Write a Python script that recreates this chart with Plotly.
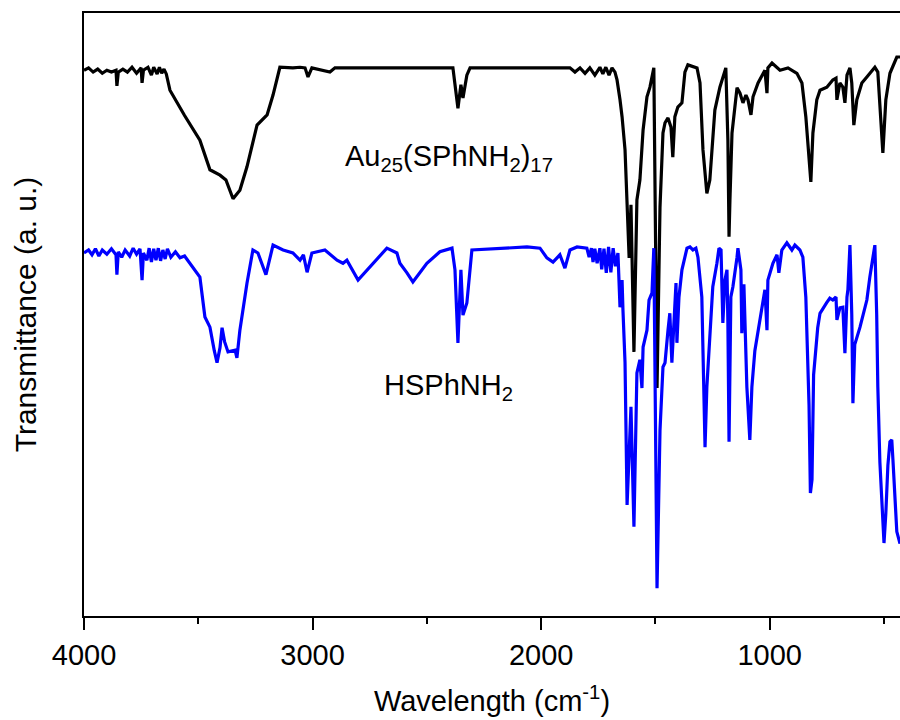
import plotly.graph_objects as go

# Au25(SPhNH2)17 spectrum (black): wavenumber (cm-1) and transmittance (a.u.)
au_wn = [4000, 3980, 3960, 3940, 3920, 3900, 3880, 3860, 3856, 3850, 3830, 3810, 3790, 3770,
         3750, 3746, 3740, 3720, 3705, 3695, 3680, 3670, 3660, 3650, 3640, 3624, 3560, 3493,
         3449, 3405, 3379, 3348, 3318, 3287, 3243, 3199, 3173, 3143, 3086, 3055, 3033, 3020,
         3003, 2959, 2924, 2902, 2793, 2618, 2443, 2386, 2364, 2351, 2342, 2325, 2311, 2180,
         2005, 1874, 1852, 1830, 1808, 1787, 1765, 1743, 1730, 1717, 1703, 1690, 1677, 1668,
         1655, 1646, 1633, 1624, 1615, 1607, 1594, 1581, 1568, 1554, 1537, 1524, 1507, 1493,
         1480, 1467, 1458, 1445, 1432, 1424, 1415, 1402, 1384, 1371, 1358, 1318, 1305, 1292,
         1275, 1262, 1240, 1218, 1192, 1183, 1178, 1174, 1165, 1143, 1130, 1117, 1104, 1095,
         1082, 1073, 1051, 1021, 1012, 1008, 990, 955, 920, 881, 859, 842, 820, 811, 794, 780,
         750, 724, 710, 706, 693, 680, 671, 662, 649, 641, 632, 619, 597, 575, 540, 527, 505,
         492, 474, 444, 430]
au_t = [90.5, 90.9, 90.2, 90.7, 90.0, 90.5, 90.2, 90.5, 87.9, 90.2, 90.7, 90.2, 91.0, 90.0,
        90.9, 88.4, 90.5, 91.0, 89.7, 91.0, 89.9, 91.0, 90.0, 90.7, 89.9, 87.2, 83.0, 78.9,
        74.0, 73.1, 72.3, 69.2, 70.6, 74.5, 81.4, 83.1, 86.4, 91.0, 90.9, 91.0, 90.9, 89.4,
        90.9, 90.5, 90.2, 90.9, 90.9, 91.0, 90.9, 90.9, 84.2, 88.1, 85.9, 89.7, 90.9, 90.9,
        91.0, 90.9, 90.2, 90.9, 90.0, 90.9, 89.7, 91.0, 89.9, 91.0, 89.7, 90.9, 90.2, 88.9,
        85.6, 82.8, 77.3, 69.0, 59.4, 68.2, 43.8, 69.0, 72.3, 80.6, 86.1, 87.7, 90.9, 37.8,
        67.8, 80.1, 81.8, 82.6, 81.1, 76.1, 82.8, 84.4, 85.1, 90.2, 91.4, 90.9, 88.4, 77.3,
        70.1, 72.3, 83.9, 87.7, 90.9, 78.9, 62.9, 69.0, 80.1, 87.6, 86.7, 85.1, 86.4, 85.6,
        83.1, 86.1, 88.4, 90.5, 86.7, 90.9, 91.7, 90.5, 90.9, 90.0, 88.4, 82.8, 72.0, 80.1,
        85.6, 87.2, 87.7, 88.9, 89.2, 85.6, 88.4, 87.7, 85.1, 89.7, 90.9, 88.4, 81.4, 85.6,
        88.4, 89.4, 91.0, 90.2, 76.8, 85.6, 90.0, 92.7, 92.7]

# HSPhNH2 spectrum (blue)
hs_wn = [4000, 3980, 3965, 3950, 3935, 3920, 3900, 3880, 3860, 3856, 3850, 3835, 3820, 3800,
         3785, 3770, 3755, 3746, 3740, 3725, 3715, 3705, 3695, 3685, 3675, 3665, 3655, 3645,
         3635, 3620, 3600, 3580, 3560, 3540, 3523, 3493, 3471, 3449, 3430, 3418, 3405, 3396,
         3385, 3370, 3339, 3331, 3318, 3287, 3261, 3239, 3204, 3173, 3129, 3086, 3055, 3040,
         3024, 3003, 2946, 2893, 2867, 2850, 2801, 2749, 2675, 2631, 2618, 2587, 2561, 2500,
         2443, 2390, 2377, 2364, 2351, 2342, 2325, 2303, 2180, 2062, 2005, 1975, 1948, 1918,
         1896, 1874, 1843, 1800, 1790, 1780, 1773, 1765, 1755, 1743, 1735, 1725, 1715, 1705,
         1695, 1685, 1675, 1664, 1655, 1646, 1642, 1633, 1624, 1607, 1594, 1585, 1581, 1568,
         1559, 1554, 1537, 1528, 1515, 1511, 1507, 1493, 1480, 1467, 1458, 1445, 1437, 1428,
         1424, 1410, 1406, 1397, 1384, 1362, 1349, 1336, 1323, 1314, 1297, 1292, 1283, 1275,
         1262, 1249, 1231, 1222, 1213, 1205, 1196, 1187, 1183, 1178, 1170, 1161, 1143, 1139,
         1126, 1122, 1113, 1100, 1087, 1078, 1065, 1043, 1021, 1012, 1008, 986, 968, 960,
         947, 925, 903, 890, 868, 855, 842, 828, 822, 815, 808, 790, 780, 750, 737, 724,
         710, 706, 693, 680, 671, 662, 658, 649, 641, 636, 628, 605, 575, 562, 540, 532,
         527, 518, 505, 500, 492, 483, 474, 466, 461, 452, 444, 430]
hs_t = [60.2, 60.7, 59.9, 60.9, 59.7, 60.7, 60.0, 60.9, 59.9, 56.6, 60.4, 59.5, 60.7, 59.7,
        61.0, 60.0, 60.9, 55.7, 60.2, 59.0, 61.0, 58.7, 60.9, 59.0, 61.0, 58.9, 60.7, 59.2,
        60.9, 59.5, 60.4, 59.4, 59.7, 58.7, 57.9, 56.2, 49.6, 47.9, 44.0, 42.0, 44.5, 47.8,
        45.5, 43.8, 44.1, 42.8, 47.4, 55.2, 60.7, 60.2, 56.6, 61.5, 60.7, 60.2, 59.0, 59.9,
        57.0, 60.2, 60.7, 59.0, 58.5, 59.0, 55.7, 57.9, 61.0, 60.2, 58.5, 56.9, 55.4, 58.5,
        60.4, 61.0, 57.4, 45.3, 57.4, 49.9, 51.9, 60.7, 61.0, 61.2, 61.0, 59.4, 58.7, 59.9,
        57.7, 60.7, 61.2, 61.0, 59.5, 61.0, 58.7, 60.9, 58.5, 61.0, 57.5, 60.9, 56.9, 61.2,
        57.0, 61.0, 58.0, 60.2, 51.2, 55.7, 50.7, 42.0, 18.4, 34.7, 14.8, 35.3, 40.3, 42.5,
        37.8, 44.6, 47.4, 52.4, 53.6, 57.4, 61.0, 4.6, 30.8, 41.3, 42.0, 47.4, 50.2, 42.0,
        44.6, 55.2, 45.3, 52.9, 57.4, 61.0, 61.2, 60.7, 61.0, 59.5, 52.9, 45.0, 28.0, 38.0,
        47.4, 54.6, 58.5, 61.0, 60.7, 48.6, 55.7, 57.4, 48.6, 28.9, 52.9, 54.6, 59.5, 61.0,
        57.4, 46.9, 55.0, 38.0, 29.2, 38.0, 44.0, 49.1, 54.1, 47.4, 55.7, 58.5, 59.9, 56.9,
        60.7, 61.9, 60.7, 61.5, 60.7, 59.5, 52.9, 35.0, 20.4, 22.6, 40.0, 47.8, 50.2, 52.0, 52.7, 52.4,
        52.9, 49.1, 51.1, 51.2, 43.6, 52.9, 54.1, 61.5, 50.0, 35.3, 45.0, 47.9, 52.4, 56.2, 61.5, 50.0,
        38.0, 25.5, 14.0, 12.1, 17.0, 25.0, 28.9, 29.2, 26.0, 18.0, 14.0, 12.0]

x_ticks = [4000, 3000, 2000, 1000]
label_au = "Au<sub>25</sub>(SPhNH<sub>2</sub>)<sub>17</sub>"
label_hs = "HSPhNH<sub>2</sub>"

FONT = "Arial, Liberation Sans, sans-serif"

fig = go.Figure()
fig.add_trace(go.Scatter(x=au_wn, y=au_t, mode="lines",
                         line=dict(color="black", width=3.2), showlegend=False))
fig.add_trace(go.Scatter(x=hs_wn, y=hs_t, mode="lines",
                         line=dict(color="#0000ff", width=3.2), showlegend=False))

fig.add_annotation(x=2867, y=76.0, xref="x", yref="y", text=label_au, showarrow=False,
                   xanchor="left", yanchor="middle", font=dict(family=FONT, size=29, color="black"))
fig.add_annotation(x=2696, y=38.0, xref="x", yref="y", text=label_hs, showarrow=False,
                   xanchor="left", yanchor="middle", font=dict(family=FONT, size=29, color="black"))

fig.update_layout(
    width=900, height=720,
    margin=dict(l=84, r=0, t=13, b=104, autoexpand=False),
    paper_bgcolor="white", plot_bgcolor="white",
    font=dict(family=FONT, color="black"),
    xaxis=dict(range=[4000, 430], showgrid=False, zeroline=False, automargin=False,
               showline=True, linecolor="black", linewidth=2, mirror=True,
               ticks="outside", ticklen=12, tickwidth=2, tickcolor="black",
               tickvals=x_ticks, tickfont=dict(size=29, family=FONT),
               minor=dict(ticks="outside", ticklen=6, tickwidth=2, tickcolor="black",
                          dtick=500, tick0=0),
               title=dict(text="Wavelength (cm<sup>-1</sup>)", font=dict(size=29, family=FONT),
                          standoff=21)),
    yaxis=dict(range=[0, 100], showgrid=False, zeroline=False, automargin=False,
               showline=True, linecolor="black", linewidth=2, mirror=False,
               showticklabels=False, ticks="",
               title=dict(text="Transmittance (a. u.)", font=dict(size=30, family=FONT),
                          standoff=37)),
)

# remove the default page margin so the 900x720 figure fills the window exactly
fig.write_html("out.html", config={"displayModeBar": False},
               post_script="document.body.style.margin='0';document.body.style.overflow='hidden';")
